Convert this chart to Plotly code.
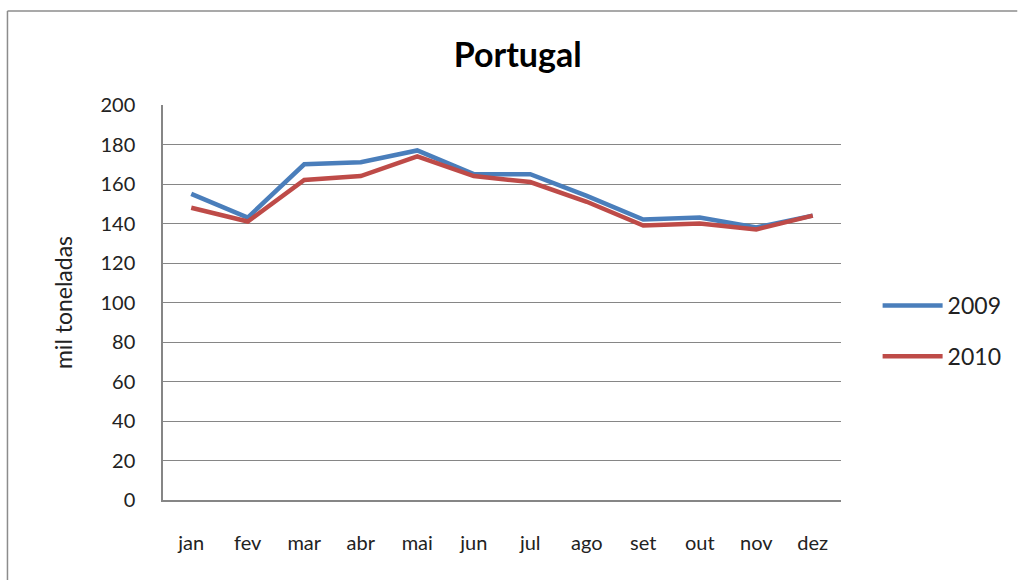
import plotly.graph_objects as go

months = ["jan", "fev", "mar", "abr", "mai", "jun", "jul", "ago", "set", "out", "nov", "dez"]
s2009 = [155, 143, 170, 171, 177, 165, 165, 154, 142, 143, 138, 144]
s2010 = [148, 141, 162, 164, 174, 164, 161, 151, 139, 140, 137, 144]
yticks = [0, 20, 40, 60, 80, 100, 120, 140, 160, 180, 200]

FONT = "Lato"
fig = go.Figure()
fig.add_trace(go.Scatter(x=months, y=s2009, name="2009", mode="lines",
                         line=dict(color="#4a7ebb", width=4.5), legendgroup="a"))
fig.add_trace(go.Scatter(x=months, y=s2010, name="2010", mode="lines",
                         line=dict(color="#be4b48", width=4.5), legendgroup="b"))

fig.update_layout(
    width=1019, height=580,
    margin=dict(l=163, r=176, t=105, b=80),
    paper_bgcolor="white", plot_bgcolor="white",
    font=dict(family=FONT, size=19, color="#222"),
    title=dict(text="<b>Portugal</b>", x=0.508, xanchor="center", y=0.905, yanchor="middle",
               font=dict(family=FONT, size=34, color="#000")),
    showlegend=True,
    legend=dict(x=1.054, xanchor="left", y=0.428, yanchor="middle", itemwidth=60,
                tracegroupgap=18, font=dict(size=23, color="#222"), bgcolor="rgba(0,0,0,0)"),
    xaxis=dict(showgrid=False, showline=True, linecolor="#868686", linewidth=1.5,
               ticks="", tickfont=dict(size=20), ticklabelstandoff=24,
               range=[-0.5, 11.5], fixedrange=True),
    yaxis=dict(range=[0, 200], tickvals=yticks, showgrid=True, gridcolor="#868686", gridwidth=1.3,
               showline=True, linecolor="#868686", linewidth=1.5, ticks="",
               ticklabelstandoff=22, tickfont=dict(size=20), zeroline=False,
               title=dict(text="mil toneladas", font=dict(size=23), standoff=21)),
    shapes=[
        dict(type="line", xref="paper", yref="paper", x0=-0.2294, x1=1.26, y0=1.238, y1=1.238,
             line=dict(color="#8c8c8c", width=1.5)),
        dict(type="line", xref="paper", yref="paper", x0=-0.2294, x1=-0.2294, y0=-0.21, y1=1.238,
             line=dict(color="#8c8c8c", width=1.5)),
    ],
)
fig.write_html("out.html", config={"displayModeBar": False},
               post_script="document.body.style.margin='0';")
